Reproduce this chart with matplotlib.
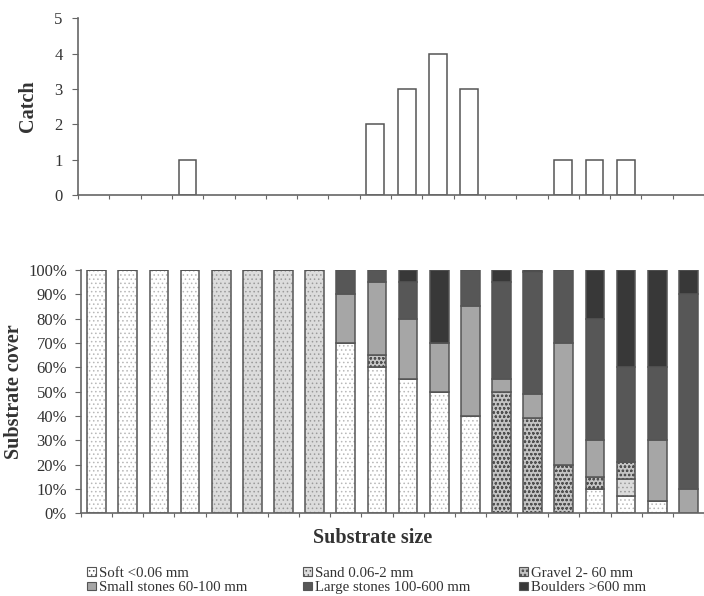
import matplotlib
matplotlib.use('Agg')
import matplotlib.pyplot as plt
import matplotlib.patches as mpatches
import numpy as np

plt.rcParams['font.family'] = ['Liberation Serif', 'DejaVu Serif']
plt.rcParams['hatch.linewidth'] = 0.6

# catch per substrate class (20 classes)
catch = [0, 0, 0, 1, 0, 0, 0, 0, 0, 2, 3, 4, 3, 0, 0, 1, 1, 1, 0, 0]

# substrate cover (%) per class, stacked bottom -> top
soft = [100, 100, 100, 100, 0, 0, 0, 0, 70, 60, 55, 50, 40, 0, 0, 0, 10, 7, 5, 0]
sand = [0, 0, 0, 0, 100, 100, 100, 100, 0, 0, 0, 0, 0, 0, 0, 0, 0, 7, 0, 0]
gravel = [0, 0, 0, 0, 0, 0, 0, 0, 0, 5, 0, 0, 0, 50, 39, 20, 5, 7, 0, 0]
small_stones = [0, 0, 0, 0, 0, 0, 0, 0, 20, 30, 25, 20, 45, 5, 10, 50, 15, 0, 25, 10]
large_stones = [0, 0, 0, 0, 0, 0, 0, 0, 10, 5, 15, 0, 15, 40, 50, 30, 50, 39, 30, 80]
boulders = [0, 0, 0, 0, 0, 0, 0, 0, 0, 0, 5, 30, 0, 5, 1, 0, 20, 40, 40, 10]

labels = ['Soft <0.06 mm', 'Sand 0.06-2 mm', 'Gravel 2- 60 mm',
          'Small stones 60-100 mm', 'Large stones 100-600 mm', 'Boulders >600 mm']

# (face, hatch, hatch colour)
styles = [('#ffffff', '....', '#b8b8b8'),
          ('#dcdcdc', '....', '#9a9a9a'),
          ('#c4c4c4', 'oooo', '#505050'),
          ('#a6a6a6', None, None),
          ('#575757', None, None),
          ('#383838', None, None)]

EDGE = '#555555'
TXT = '#333333'

fig = plt.figure(figsize=(7.04, 5.96), dpi=100)


def style_axes(ax):
    for s in ['top', 'right']:
        ax.spines[s].set_visible(False)
    for s in ['left', 'bottom']:
        ax.spines[s].set_color('#666666')
        ax.spines[s].set_linewidth(1.2)
    ax.tick_params(axis='both', colors='#666666', labelcolor=TXT, labelsize=12, length=4)
    ax.tick_params(axis='x', labelbottom=False, length=3)
    ax.set_xlim(0, 20)
    ax.set_xticks(np.arange(0, 21))


# top: catch (empty classes drawn as nothing)
ax1 = fig.add_axes([78 / 704, 0.673, 1 - 78 / 704, 0.296])
x = np.arange(len(catch)) + 0.5
catch_arr = np.array(catch, dtype=float)
ax1.bar(x, np.where(catch_arr > 0, catch_arr, np.nan), width=0.57, color='white',
        edgecolor=EDGE, linewidth=1.1)
ax1.set_ylim(0, 5)
ax1.set_yticks(range(0, 6))
style_axes(ax1)
ax1.tick_params(axis='y', pad=7)
ax1.set_ylabel('Catch', fontsize=14.5, fontweight='bold', color=TXT, labelpad=12)

# bottom: substrate cover
ax2 = fig.add_axes([81 / 704, 0.139, 1 - 81 / 704, 0.408])
series = [soft, sand, gravel, small_stones, large_stones, boulders]
bottom = np.zeros(len(soft))
handles = []
for vals, (face, hatch, hcol), lab in zip(series, styles, labels):
    vals = np.array(vals, dtype=float)
    if hatch:
        ax2.bar(x, vals, bottom=bottom, width=0.6, color=face, edgecolor=hcol,
                hatch=hatch, linewidth=0)
    else:
        ax2.bar(x, vals, bottom=bottom, width=0.6, color=face, linewidth=0)
    ax2.bar(x, vals, bottom=bottom, width=0.6, fill=False, edgecolor=EDGE, linewidth=1.1)
    bottom += vals
    handles.append(mpatches.Patch(facecolor=face, edgecolor=EDGE, hatch=hatch,
                                  linewidth=0.8, label=lab))

ax2.set_ylim(0, 100)
ax2.set_yticks(range(0, 101, 10))
ax2.set_yticklabels([f'{v}%' for v in range(0, 101, 10)])
style_axes(ax2)
ax2.tick_params(axis='y', pad=6)
ax2.set_ylabel('Substrate cover', fontsize=14.5, fontweight='bold', color=TXT, labelpad=3)

fig.text(373 / 704, 1 - 538 / 596, 'Substrate size', fontsize=14.5, fontweight='bold',
         color=TXT, ha='center', va='center')

# legend in three columns with uneven spacing
col_x = [87, 303, 519]
for i, cx in enumerate(col_x):
    leg = fig.legend(handles=[handles[i], handles[i + 3]], loc='upper left',
                     bbox_to_anchor=(cx / 704, 1 - 567 / 596), frameon=False,
                     fontsize=10.7, handlelength=0.6, handleheight=0.5,
                     handletextpad=0.2, labelspacing=0.1, borderpad=0,
                     borderaxespad=0)
    for t in leg.get_texts():
        t.set_color(TXT)

fig.savefig('out.png', dpi=100, facecolor='white')
